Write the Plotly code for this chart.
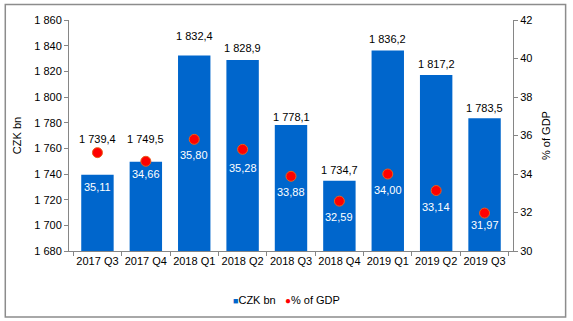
import plotly.graph_objects as go

categories = ["2017 Q3", "2017 Q4", "2018 Q1", "2018 Q2", "2018 Q3", "2018 Q4", "2019 Q1", "2019 Q2", "2019 Q3"]
czk_bn = [1739.4, 1749.5, 1832.4, 1828.9, 1778.1, 1734.7, 1836.2, 1817.2, 1783.5]
pct_gdp = [35.11, 34.66, 35.80, 35.28, 33.88, 32.59, 34.00, 33.14, 31.97]
series_names = ["CZK bn", "% of GDP"]

# label pixel offsets (style): bar labels above bar top, % labels below markers
bar_label_shift = [36, 23, 19, 12, 8, 11, 12, 11, 10]
pct_label_shift = [-34, -13, -16, -19, -16, -16, -16, -16, -12]


def fmt(v, d):
    s = f"{v:,.{d}f}"
    return s.replace(",", " ").replace(".", ",")


FONT = "Liberation Sans, Arial, sans-serif"
AXC = "#868686"
BLUE = "#0066CC"
RED = "#FF0000"

fig = go.Figure()
fig.add_trace(go.Bar(
    x=categories, y=czk_bn, name=series_names[0],
    marker=dict(color=BLUE, line=dict(width=0)),
))
fig.add_trace(go.Scatter(
    x=categories, y=pct_gdp, name=series_names[1], yaxis="y2",
    mode="markers",
    marker=dict(color=RED, size=10, line=dict(color="#E8601C", width=1)),
    cliponaxis=False,
))

annotations = []
for c, v, s in zip(categories, czk_bn, bar_label_shift):
    annotations.append(dict(x=c, y=v, xref="x", yref="y", text=fmt(v, 1), showarrow=False,
                            yshift=s, yanchor="middle",
                            font=dict(color="#000000", size=11, family=FONT)))
for c, v, s in zip(categories, pct_gdp, pct_label_shift):
    annotations.append(dict(x=c, y=v, xref="x", yref="y2", text=fmt(v, 2), showarrow=False,
                            yshift=s, yanchor="middle",
                            font=dict(color="#FFFFFF", size=11, family=FONT)))
# compact legend, drawn as text
annotations.append(dict(
    x=0.49, y=-0.212, xref="paper", yref="paper", xanchor="center", yanchor="middle",
    showarrow=False, font=dict(size=11, family=FONT, color="#000000"),
    text=(f"<span style='color:{BLUE};font-size:9px'>■</span>{series_names[0]}&nbsp;&nbsp;&nbsp;"
          f"<span style='color:{RED};font-size:10px'>●</span>{series_names[1]}"),
))

fig.update_layout(
    width=573, height=321,
    margin=dict(l=69, r=60, t=20, b=70),
    paper_bgcolor="white", plot_bgcolor="white",
    separators=", ",
    font=dict(family=FONT, size=11, color="#000000"),
    bargap=0.33,
    showlegend=False,
    xaxis=dict(showline=True, linecolor=AXC, ticks="outside", ticklen=4, tickangle=0,
               tickcolor=AXC, tickson="boundaries", showgrid=False,
               tickfont=dict(size=11)),
    yaxis=dict(range=[1680, 1860], dtick=20, tickformat=",d", showline=True,
               linecolor=AXC, ticks="outside", ticklen=4, tickcolor=AXC,
               showgrid=False, zeroline=False,
               title=dict(text="CZK bn", standoff=10, font=dict(size=11))),
    yaxis2=dict(range=[30, 42], dtick=2, overlaying="y", side="right", showline=True,
                linecolor=AXC, ticks="outside", ticklen=4, tickcolor=AXC,
                showgrid=False, zeroline=False,
                title=dict(text="% of GDP", standoff=10, font=dict(size=11))),
    annotations=annotations,
    shapes=[dict(type="rect", xref="paper", yref="paper",
                 x0=-0.1435, x1=1.1185, y0=-0.2857, y1=1.0667,
                 line=dict(color="#8C8C8C", width=1.5), fillcolor="rgba(0,0,0,0)")],
)

fig.write_html("out.html")
